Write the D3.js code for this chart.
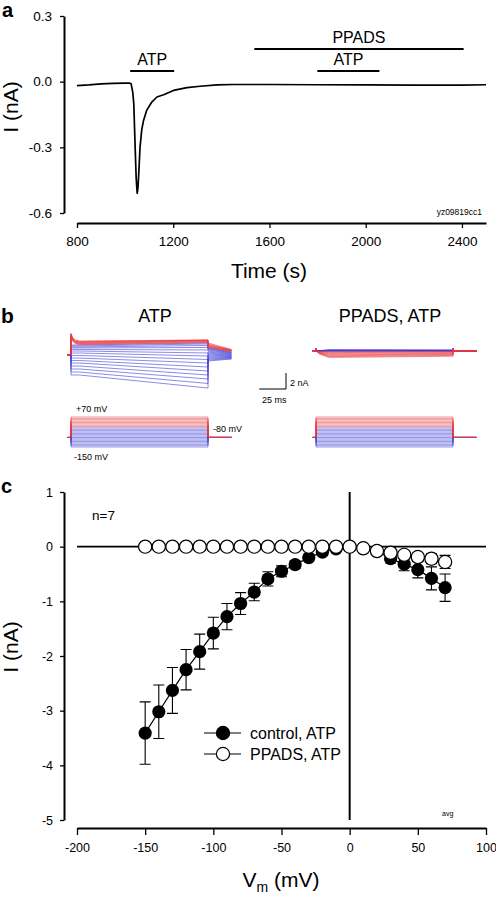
<!DOCTYPE html>
<html><head><meta charset="utf-8">
<script src="https://cdn.jsdelivr.net/npm/d3@7"></script>
<style>
body{margin:0;background:#fff}
svg{display:block}
text{font-family:Arial,"Liberation Sans",sans-serif;fill:#000}
</style>
</head><body>
<svg id="fig" width="496" height="898"></svg>
<script>
// ---------- Panel a: whole-cell current vs time ----------
const traceTime = [800, 850, 900, 950, 1000, 1020, 1025, 1032, 1036, 1042, 1046, 1050, 1053, 1056, 1062, 1069, 1076, 1090, 1111, 1132, 1160, 1201, 1257, 1312, 1382, 1450, 1600, 1800, 2000, 2200, 2400, 2500];
const traceCurrent = [-0.018, -0.015, -0.01, -0.008, -0.007, -0.007, -0.01, -0.05, -0.1, -0.31, -0.44, -0.51, -0.49, -0.435, -0.30, -0.22, -0.18, -0.13, -0.093, -0.07, -0.06, -0.04, -0.027, -0.021, -0.015, -0.013, -0.013, -0.014, -0.015, -0.016, -0.016, -0.014];
const drugLabels = ["ATP", "PPADS", "ATP"];
const drugStart = [1021, 1537, 1799];
const drugEnd = [1204, 2407, 2057];
const timeTicks = [800, 1200, 1600, 2000, 2400];
const currentTicksA = [0.3, 0.0, -0.3, -0.6];

// ---------- Panel b: current families and voltage protocol ----------
const stepVoltages = [-150, -140, -130, -120, -110, -100, -90, -80, -70, -60, -50, -40, -30, -20, -10, 0, 10, 20, 30, 40, 50, 60, 70];
const atpStepStart = [-2.5, -2.13, -1.75, -1.38, -1.0, -0.69, -0.38, -0.06, 0.25, 0.5, 0.69, 0.88, 1.0, 1.13, 1.25, 1.31, 1.38, 1.44, 1.5, 1.56, 1.63, 1.69, 1.75];
const atpStepEnd = [-4.13, -3.56, -3.0, -2.5, -2.0, -1.5, -1.0, -0.56, -0.13, 0.25, 0.63, 0.94, 1.19, 1.38, 1.5, 1.56, 1.63, 1.69, 1.75, 1.81, 1.84, 1.86, 1.88];
const atpTailStart = [-0.75, -0.63, -0.5, -0.38, -0.25, -0.13, 0, 0.13, 0.25, 0.38, 0.5, 0.63, 0.75, 0.81, 0.88, 0.94, 1.0, 1.06, 1.13, 1.19, 1.25, 1.38, 1.5];
const atpTailEnd = [-0.5, -0.44, -0.38, -0.31, -0.25, -0.19, -0.13, -0.06, 0, 0.06, 0.13, 0.19, 0.25, 0.31, 0.38, 0.44, 0.5, 0.5, 0.56, 0.56, 0.63, 0.63, 0.69];
const ppadsStepStart = [0.12, 0.11, 0.1, 0.09, 0.08, 0.08, 0.07, 0.06, 0.05, 0.05, 0.04, 0.03, 0.02, 0.01, 0.0, -0.1, -0.2, -0.3, -0.4, -0.5, -0.6, -0.7, -0.8];
const ppadsStepEnd = [0.1, 0.09, 0.09, 0.08, 0.08, 0.07, 0.06, 0.05, 0.05, 0.04, 0.03, 0.03, 0.02, 0.01, 0.0, -0.06, -0.13, -0.2, -0.3, -0.38, -0.45, -0.55, -0.65];
const holdingVoltage = -80;
const stepDuration = 128;   // ms
const sweepEnd = 150;       // ms
const depolTransient = 0.95; // nA capacitive transient on depolarising steps
const scaleBarTime = 25;    // ms
const scaleBarCurrent = 2;  // nA

// ---------- Panel c: I-V relation ----------
const ivVoltage = stepVoltages;
const controlMean = [-3.41, -3.02, -2.63, -2.25, -1.92, -1.58, -1.28, -1.04, -0.83, -0.59, -0.45, -0.33, -0.2, -0.1, -0.04, 0.0, -0.03, -0.08, -0.22, -0.32, -0.42, -0.58, -0.75];
const controlSE = [0.57, 0.49, 0.42, 0.37, 0.32, 0.29, 0.24, 0.2, 0.16, 0.13, 0.1, 0.07, 0.06, 0.04, 0.03, 0.02, 0.03, 0.05, 0.08, 0.12, 0.15, 0.21, 0.25];
const ppadsMean = [0, 0, 0, 0, 0, 0, 0, 0, 0, 0, 0, 0, 0, 0, 0, 0, -0.03, -0.08, -0.11, -0.15, -0.19, -0.22, -0.28];
const ppadsSE = [0, 0, 0, 0, 0, 0, 0, 0, 0, 0, 0, 0, 0, 0, 0, 0, 0.02, 0.03, 0.04, 0.05, 0.07, 0.09, 0.12];
const vTicks = [-200, -150, -100, -50, 0, 50, 100];
const iTicks = [1, 0, -1, -2, -3, -4, -5];
const seriesNames = ["control, ATP", "PPADS, ATP"];

const RED = "#e8383c", BLUE = "#3c3cd6";
const svg = d3.select("#fig");

function styleAxis(g, w) {
  g.select(".domain").attr("stroke", "#000").attr("stroke-width", w);
  g.selectAll(".tick line").attr("stroke", "#000").attr("stroke-width", 1.3);
  g.selectAll(".tick text").attr("fill", "#000").attr("font-family", "Arial, 'Liberation Sans', sans-serif");
}

// ================= PANEL A =================
{
  const x = d3.scaleLinear().domain([800, 2500]).range([77, 486]);
  const y = d3.scaleLinear().domain([-0.6, 0.3]).range([213, 16]);
  const g = svg.append("g");
  const ya = g.append("g").attr("transform", "translate(64,0)")
    .call(d3.axisLeft(y).tickValues(currentTicksA).tickFormat(d => d.toFixed(1)).tickSize(4).tickSizeOuter(0).tickPadding(8));
  ya.selectAll(".tick text").attr("font-size", 13.5);
  styleAxis(ya, 2);
  const xa = g.append("g").attr("transform", "translate(0,223)")
    .call(d3.axisBottom(x).tickValues(timeTicks).tickFormat(d3.format("d")).tickSize(5).tickSizeOuter(0).tickPadding(8));
  xa.selectAll(".tick text").attr("font-size", 13.5);
  styleAxis(xa, 2.2);

  g.append("path").datum(traceTime.map((t, i) => [t, traceCurrent[i]]))
    .attr("d", d3.line().x(d => x(d[0])).y(d => y(d[1])))
    .attr("fill", "none").attr("stroke", "#000").attr("stroke-width", 1.7).attr("stroke-linejoin", "round");

  const barY = [71, 49, 71];
  drugLabels.forEach((lab, i) => {
    g.append("line").attr("x1", x(drugStart[i])).attr("x2", x(drugEnd[i]))
      .attr("y1", barY[i]).attr("y2", barY[i]).attr("stroke", "#000").attr("stroke-width", 2);
    g.append("text").attr("x", (x(drugStart[i]) + x(drugEnd[i])) / 2).attr("y", barY[i] - 6)
      .attr("text-anchor", "middle").attr("font-size", 16).text(lab);
  });
  g.append("text").attr("x", 482).attr("y", 215).attr("text-anchor", "end").attr("font-size", 8.5).text("yz09819cc1");
  g.append("text").attr("x", 269).attr("y", 278).attr("text-anchor", "middle").attr("font-size", 21).text("Time (s)");
  g.append("text").attr("transform", "translate(18,107) rotate(-90)").attr("text-anchor", "middle").attr("font-size", 21).text("I (nA)");
  g.append("text").attr("x", 2).attr("y", 17).attr("font-size", 20).attr("font-weight", "bold").text("a");
}

// ================= PANEL B =================
{
  const g = svg.append("g");
  g.append("text").attr("x", 1).attr("y", 323).attr("font-size", 21).attr("font-weight", "bold").text("b");
  g.append("text").attr("x", 155).attr("y", 322).attr("text-anchor", "middle").attr("font-size", 18).text("ATP");
  g.append("text").attr("x", 390).attr("y", 322).attr("text-anchor", "middle").attr("font-size", 18).text("PPADS, ATP");

  const colorOf = v => v >= 0 ? RED : BLUE;
  const line = (tx, iy) => d3.line().x(d => tx(d[0])).y(d => iy(d[1]));

  // ATP family
  const txA = d3.scaleLinear().domain([0, stepDuration]).range([71, 208]);
  const iyA = d3.scaleLinear().domain([0, 1]).range([355, 347]);
  stepVoltages.forEach((v, i) => {
    const sp = v >= 0 ? depolTransient : 0;
    const s = atpStepStart[i], e = atpStepEnd[i];
    const pts = [[-3, 0], [0, 0], [0, s + sp], [1.5, s + sp * 0.45], [4, s + sp * 0.12], [8, s],
      [stepDuration, e], [stepDuration, atpTailStart[i]], [sweepEnd, atpTailEnd[i]]];
    g.append("path").attr("d", line(txA, iyA)(pts)).attr("fill", "none")
      .attr("stroke", colorOf(v)).attr("stroke-width", 0.8).attr("stroke-opacity", 0.75);
  });

  // PPADS family
  const txP = d3.scaleLinear().domain([0, stepDuration]).range([316, 453]);
  const iyP = d3.scaleLinear().domain([0, 1]).range([351, 343]);
  stepVoltages.forEach((v, i) => {
    const s = ppadsStepStart[i], e = ppadsStepEnd[i];
    const pts = [[-3, 0], [0, 0], [0, 0.35], [0.4, 0], [3, s * 0.45], [12, s],
      [stepDuration, e], [stepDuration, 0.3], [stepDuration + 0.4, 0], [sweepEnd, 0]];
    g.append("path").attr("d", line(txP, iyP)(pts)).attr("fill", "none")
      .attr("stroke", colorOf(v)).attr("stroke-width", 0.8).attr("stroke-opacity", 0.75);
  });

  // scale bar (uses ATP scales)
  const sbx = 286, sby = 389;
  const wBar = txA(scaleBarTime) - txA(0), hBar = iyA(0) - iyA(scaleBarCurrent);
  g.append("path").attr("d", `M${sbx - wBar},${sby}H${sbx}V${sby - hBar}`)
    .attr("fill", "none").attr("stroke", "#000").attr("stroke-width", 1);
  g.append("text").attr("x", 290).attr("y", 386).attr("font-size", 9).text(scaleBarCurrent + " nA");
  g.append("text").attr("x", 262).attr("y", 403).attr("font-size", 9).text(scaleBarTime + " ms");

  // voltage protocols
  const vy = d3.scaleLinear().domain([-150, 70]).range([447, 417]);
  [txA, txP].forEach(tx => {
    stepVoltages.forEach(v => {
      const pts = [[-3, holdingVoltage], [0, holdingVoltage], [0, v], [stepDuration, v], [stepDuration, holdingVoltage], [sweepEnd, holdingVoltage]];
      g.append("path").attr("d", d3.line().x(d => tx(d[0])).y(d => vy(d[1]))(pts))
        .attr("fill", "none").attr("stroke", colorOf(v)).attr("stroke-width", 0.9).attr("stroke-opacity", 0.6);
    });
  });
  g.append("text").attr("x", 76).attr("y", 412).attr("font-size", 9).text("+70 mV");
  g.append("text").attr("x", 213).attr("y", 432).attr("font-size", 9).text("-80 mV");
  g.append("text").attr("x", 74).attr("y", 460).attr("font-size", 9).text("-150 mV");
}

// ================= PANEL C =================
{
  const x = d3.scaleLinear().domain([-200, 100]).range([77, 486]);
  const y = d3.scaleLinear().domain([-5, 1]).range([820, 492]);
  const g = svg.append("g");
  g.append("text").attr("x", 1).attr("y", 493).attr("font-size", 20).attr("font-weight", "bold").text("c");

  const ya = g.append("g").attr("transform", "translate(64,0)")
    .call(d3.axisLeft(y).tickValues(iTicks).tickFormat(d => String(d)).tickSize(4).tickSizeOuter(0).tickPadding(7));
  ya.selectAll(".tick text").attr("font-size", 12.5);
  styleAxis(ya, 2);
  const xa = g.append("g").attr("transform", "translate(0,828)")
    .call(d3.axisBottom(x).tickValues(vTicks).tickFormat(d => String(d)).tickSize(7).tickSizeOuter(0).tickPadding(8));
  xa.selectAll(".tick text").attr("font-size", 12.5);
  styleAxis(xa, 2.2);

  // zero lines
  g.append("line").attr("x1", x(-200)).attr("x2", x(100)).attr("y1", y(0)).attr("y2", y(0))
    .attr("stroke", "#000").attr("stroke-width", 1.6);
  g.append("line").attr("x1", x(0)).attr("x2", x(0)).attr("y1", y(1)).attr("y2", y(-5))
    .attr("stroke", "#000").attr("stroke-width", 2);

  const r = 6.6, cap = 5.5;
  const errBars = (mean, se) => {
    ivVoltage.forEach((v, i) => {
      if (se[i] <= 0) return;
      const cx = x(v), y1 = y(mean[i] + se[i]), y2 = y(mean[i] - se[i]);
      g.append("path").attr("d", `M${cx},${y1}V${y2}M${cx - cap},${y1}H${cx + cap}M${cx - cap},${y2}H${cx + cap}`)
        .attr("stroke", "#000").attr("stroke-width", 1.1).attr("fill", "none");
    });
  };
  const ln = d3.line().x((d, i) => x(ivVoltage[i])).y(d => y(d));

  errBars(controlMean, controlSE);
  g.append("path").attr("d", ln(controlMean)).attr("fill", "none").attr("stroke", "#000").attr("stroke-width", 1.2);
  g.selectAll(".cf").data(controlMean).enter().append("circle")
    .attr("cx", (d, i) => x(ivVoltage[i])).attr("cy", d => y(d)).attr("r", r).attr("fill", "#000");

  errBars(ppadsMean, ppadsSE);
  g.append("path").attr("d", ln(ppadsMean)).attr("fill", "none").attr("stroke", "#000").attr("stroke-width", 1.2);
  g.selectAll(".po").data(ppadsMean).enter().append("circle")
    .attr("cx", (d, i) => x(ivVoltage[i])).attr("cy", d => y(d)).attr("r", r)
    .attr("fill", "#fff").attr("stroke", "#000").attr("stroke-width", 1.2);

  // legend
  const legY = [733, 754];
  seriesNames.forEach((name, i) => {
    g.append("line").attr("x1", 204).attr("x2", 241).attr("y1", legY[i]).attr("y2", legY[i])
      .attr("stroke", "#000").attr("stroke-width", 1.2);
    g.append("circle").attr("cx", 223).attr("cy", legY[i]).attr("r", r)
      .attr("fill", i === 0 ? "#000" : "#fff").attr("stroke", "#000").attr("stroke-width", 1.2);
    g.append("text").attr("x", 250).attr("y", legY[i] + 6).attr("font-size", 16).text(name);
  });

  g.append("text").attr("x", 92).attr("y", 520).attr("font-size", 13.5).text("n=7");
  g.append("text").attr("x", 442).attr("y", 816).attr("font-size", 7).text("avg");

  const xl = g.append("text").attr("x", 281).attr("y", 887).attr("text-anchor", "middle").attr("font-size", 21);
  xl.append("tspan").text("V");
  xl.append("tspan").attr("font-size", 14).attr("dy", 5).text("m");
  xl.append("tspan").attr("dy", -5).text(" (mV)");
  g.append("text").attr("transform", "translate(18,647) rotate(-90)").attr("text-anchor", "middle").attr("font-size", 21).text("I (nA)");
}
</script>
</body></html>
